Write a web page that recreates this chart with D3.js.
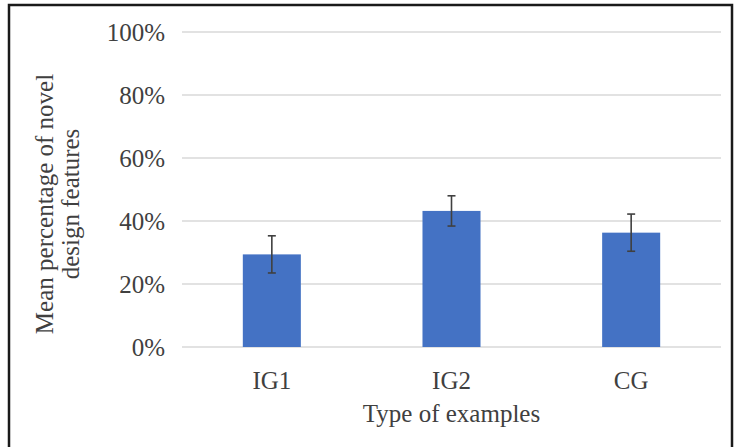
<!DOCTYPE html>
<html><head><meta charset="utf-8">
<script src="https://cdn.jsdelivr.net/npm/d3@7"></script>
<style>
html,body{margin:0;padding:0;background:#fff;}
svg{display:block;}
text{font-family:"Liberation Serif","Times New Roman",serif;fill:#404040;}
</style></head>
<body><svg id="chart" width="737" height="447"></svg>
<script>
const categories = ["IG1", "IG2", "CG"];
const means = [29.4, 43.2, 36.3];
const errors = [5.9, 4.8, 5.9];
const yTicks = [0, 20, 40, 60, 80, 100];
const xTitle = "Type of examples";
const yTitleLines = ["Mean percentage of novel", "design features"];

const svg = d3.select("#chart");
const W = 737, H = 447;
const m = {left: 182, right: 16, top: 32, bottom: 100};
const FS = 25;

svg.append("rect").attr("x", 9).attr("y", 5).attr("width", 723).attr("height", 460)
  .attr("fill", "#fff").attr("stroke", "#1a1a1a").attr("stroke-width", 2.5);

const x = d3.scaleBand().domain(categories).range([m.left, W - m.right]).paddingInner(0.677).paddingOuter(0.3385);
const y = d3.scaleLinear().domain([0, 100]).range([H - m.bottom, m.top]);

// gridlines
svg.append("g").selectAll("line").data(yTicks).join("line")
  .attr("x1", m.left).attr("x2", W - m.right)
  .attr("y1", d => y(d)).attr("y2", d => y(d))
  .attr("stroke", "#d9d9d9").attr("stroke-width", 1.5);

// y axis labels
const yAxis = d3.axisLeft(y).tickValues(yTicks).tickFormat(d => d + "%").tickSize(0).tickPadding(17);
const yg = svg.append("g").attr("transform", `translate(${m.left},0)`).call(yAxis);
yg.select(".domain").remove();
yg.selectAll("text").attr("font-size", FS).style("fill", "#404040")
  .attr("font-family", "'Liberation Serif','Times New Roman',serif");

// bars
svg.append("g").selectAll("rect").data(categories).join("rect")
  .attr("x", d => x(d)).attr("width", x.bandwidth())
  .attr("y", (d, i) => y(means[i])).attr("height", (d, i) => y(0) - y(means[i]))
  .attr("fill", "#4472c4");

// error bars
const eg = svg.append("g").attr("stroke", "#404040").attr("stroke-width", 1.6);
categories.forEach((c, i) => {
  const cx = x(c) + x.bandwidth() / 2;
  const y1 = y(means[i] + errors[i]), y2 = y(means[i] - errors[i]);
  eg.append("line").attr("x1", cx).attr("x2", cx).attr("y1", y1).attr("y2", y2);
  eg.append("line").attr("x1", cx - 4).attr("x2", cx + 4).attr("y1", y1).attr("y2", y1);
  eg.append("line").attr("x1", cx - 4).attr("x2", cx + 4).attr("y1", y2).attr("y2", y2);
});

// x axis labels
const xAxis = d3.axisBottom(x).tickSize(0).tickPadding(24);
const xg = svg.append("g").attr("transform", `translate(0,${y(0)})`).call(xAxis);
xg.select(".domain").remove();
xg.selectAll("text").attr("font-size", FS).style("fill", "#404040")
  .attr("font-family", "'Liberation Serif','Times New Roman',serif");

// x title
svg.append("text").attr("x", (m.left + W - m.right) / 2).attr("y", 422)
  .attr("text-anchor", "middle").attr("font-size", FS).text(xTitle);

// y title
const yt = svg.append("text").attr("transform", "translate(53,204) rotate(-90)")
  .attr("text-anchor", "middle").attr("font-size", FS);
yTitleLines.forEach((t, i) => {
  yt.append("tspan").attr("x", 0).attr("dy", i === 0 ? 0 : 26).text(t);
});
</script></body></html>
